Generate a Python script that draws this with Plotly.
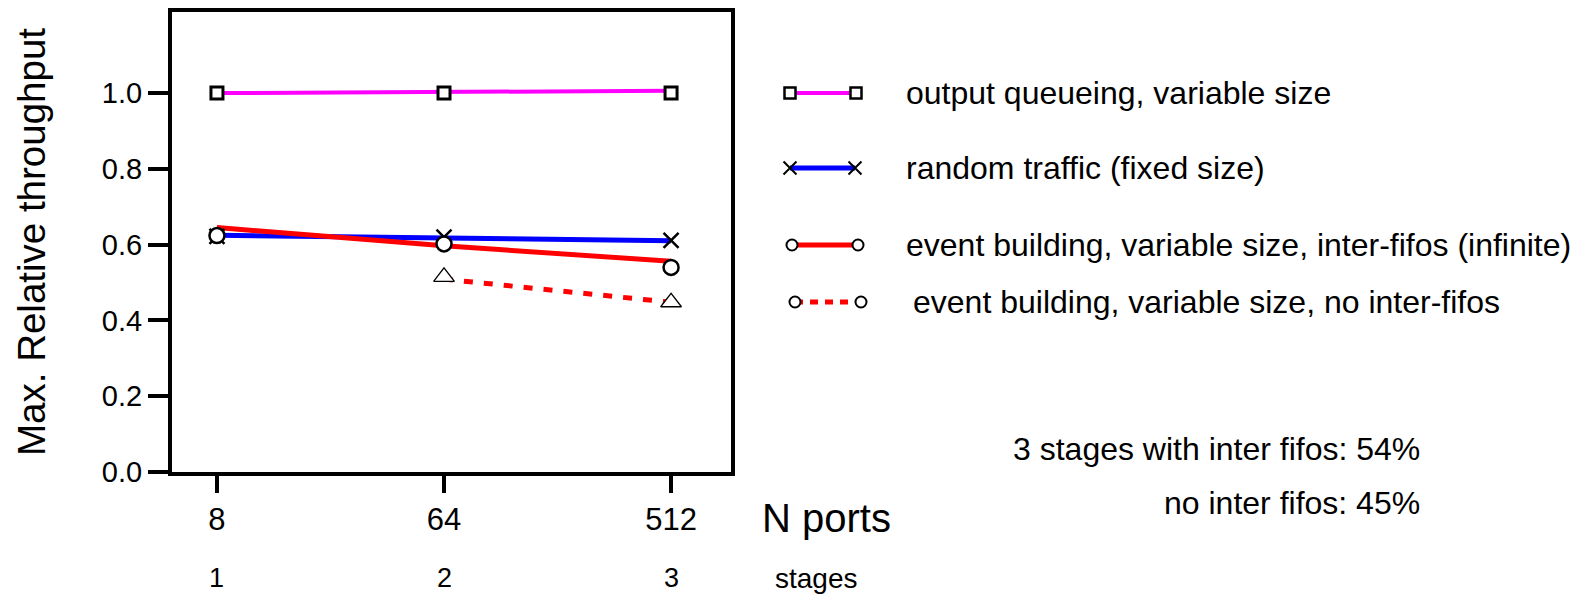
import plotly.graph_objects as go

# ---- data ----
n_ports = ["8", "64", "512"]
stages = ["1", "2", "3"]
x_pos = [1, 2, 3]

out_queue_pts = [1.0, 1.0, 1.0]
out_queue_fit = [1.0, 1.003, 1.006]
random_pts = [0.622, 0.620, 0.611]
random_fit = [0.625, 0.618, 0.610]
evb_fifo_pts = [0.624, 0.602, 0.540]
evb_fifo_fit = [0.645, 0.597, 0.556]
evb_nofifo_pts = [None, 0.515, 0.448]
evb_nofifo_fit = [None, 0.509, 0.448]

series_names = [
    "output queueing, variable size",
    "random traffic (fixed size)",
    "event building, variable size, inter-fifos (infinite)",
    "event building, variable size, no inter-fifos",
]
notes = ["3 stages with inter fifos: 54%", "no inter fifos: 45%"]

W, H = 1579, 594
FONT = "Arial, Liberation Sans, sans-serif"


def px(x):
    return x / W


def py(y):
    return 1 - y / H


MAGENTA = "#ff00ff"
BLUE = "#0000ff"
RED = "#ff0000"

fig = go.Figure()

# fitted curves
fig.add_trace(go.Scatter(x=x_pos, y=out_queue_fit, mode="lines",
                         line=dict(color=MAGENTA, width=4)))
fig.add_trace(go.Scatter(x=x_pos, y=random_fit, mode="lines",
                         line=dict(color=BLUE, width=5)))
fig.add_trace(go.Scatter(x=x_pos, y=evb_fifo_fit, mode="lines",
                         line=dict(color=RED, width=5, shape="spline")))
fig.add_trace(go.Scatter(x=x_pos, y=evb_nofifo_fit, mode="lines",
                         line=dict(color=RED, width=5, dash="9px,11px")))

# measured points
fig.add_trace(go.Scatter(x=x_pos, y=out_queue_pts, mode="markers",
                         marker=dict(symbol="square", size=12, color="white",
                                     line=dict(color="black", width=3))))
fig.add_trace(go.Scatter(x=x_pos, y=random_pts, mode="markers",
                         marker=dict(symbol="x-thin", size=15,
                                     line=dict(color="black", width=2.5))))
fig.add_trace(go.Scatter(x=x_pos, y=evb_fifo_pts, mode="markers",
                         marker=dict(symbol="circle", size=15, color="white",
                                     line=dict(color="black", width=2.5))))
fig.add_trace(go.Scatter(x=x_pos, y=evb_nofifo_pts, mode="markers",
                         marker=dict(symbol="triangle-up", size=18, color="white",
                                     line=dict(color="black", width=1.3))))

# legend samples, drawn in figure-pixel space on a full-page axis pair
leg_rows = [
    dict(y=93, x0=790, x1=856, color=MAGENTA, width=4, dash="solid",
         marker=dict(symbol="square", size=11, color="white",
                     line=dict(color="black", width=2.5))),
    dict(y=168, x0=790, x1=855, color=BLUE, width=5, dash="solid",
         marker=dict(symbol="x-thin", size=13, line=dict(color="black", width=2))),
    dict(y=245, x0=792, x1=858, color=RED, width=5, dash="solid",
         marker=dict(symbol="circle", size=11, color="white",
                     line=dict(color="black", width=2))),
    dict(y=302, x0=795, x1=861, color=RED, width=5, dash="8px,7px",
         marker=dict(symbol="circle", size=11, color="white",
                     line=dict(color="black", width=2))),
]
text_x = [904, 904, 904, 911]
for row in leg_rows:
    fig.add_trace(go.Scatter(x=[row["x0"], row["x1"]], y=[row["y"], row["y"]],
                             mode="lines", xaxis="x2", yaxis="y2",
                             line=dict(color=row["color"], width=row["width"],
                                       dash=row["dash"])))
    fig.add_trace(go.Scatter(x=[row["x0"], row["x1"]], y=[row["y"], row["y"]],
                             mode="markers", xaxis="x2", yaxis="y2",
                             marker=row["marker"]))

annotations = []
for name, row, tx in zip(series_names, leg_rows, text_x):
    annotations.append(dict(x=px(tx), y=py(row["y"]), xref="paper", yref="paper",
                            text=name, showarrow=False, xanchor="left",
                            yanchor="middle", font=dict(size=32, color="black",
                                                        family=FONT)))

for note, yy in zip(notes, [449, 503]):
    annotations.append(dict(x=px(1422), y=py(yy), xref="paper", yref="paper",
                            text=note, showarrow=False, xanchor="right",
                            yanchor="middle", font=dict(size=32, color="black",
                                                        family=FONT)))

# stage numbers under the port counts
for xv, s in zip(x_pos, stages):
    annotations.append(dict(x=xv, y=py(578), xref="x", yref="paper", text=s,
                            showarrow=False, xanchor="center", yanchor="middle",
                            font=dict(size=27, color="black", family=FONT)))

annotations.append(dict(x=px(760), y=py(518), xref="paper", yref="paper",
                        text="N ports", showarrow=False, xanchor="left",
                        yanchor="middle", font=dict(size=40, color="black", family=FONT)))
annotations.append(dict(x=px(773), y=py(578), xref="paper", yref="paper",
                        text="stages", showarrow=False, xanchor="left",
                        yanchor="middle", font=dict(size=28, color="black", family=FONT)))
annotations.append(dict(x=px(31), y=py(242), xref="paper", yref="paper",
                        text="Max. Relative throughput", textangle=-90,
                        showarrow=False, xanchor="center", yanchor="middle",
                        font=dict(size=38.5, color="black", family=FONT)))

fig.update_layout(
    width=W, height=H,
    margin=dict(l=0, r=0, t=0, b=0, autoexpand=False),
    paper_bgcolor="white", plot_bgcolor="rgba(0,0,0,0)",
    showlegend=False,
    annotations=annotations,
    xaxis=dict(domain=[px(172), px(731)], range=[0.802, 3.264],
               tickvals=x_pos, ticktext=n_ports, automargin=False,
               showgrid=False, zeroline=False,
               showline=True, mirror=True, linecolor="black", linewidth=4,
               ticks="outside", ticklen=17, tickwidth=4, tickcolor="black",
               tickfont=dict(size=31, color="black", family=FONT),
               ticklabelstandoff=0, anchor="y"),
    yaxis=dict(domain=[py(472), py(12)], range=[0, 1.214],
               tickvals=[0, 0.2, 0.4, 0.6, 0.8, 1.0], automargin=False,
               tickformat=".1f",
               showgrid=False, zeroline=False,
               showline=True, mirror=True, linecolor="black", linewidth=4,
               ticks="outside", ticklen=20, tickwidth=4, tickcolor="black",
               tickfont=dict(size=29, color="black", family=FONT), anchor="x"),
    xaxis2=dict(domain=[0, 1], range=[0, W], visible=False, anchor="y2",
                automargin=False),
    yaxis2=dict(domain=[0, 1], range=[H, 0], visible=False, anchor="x2",
                automargin=False),
)

fig.write_html("out.html")
